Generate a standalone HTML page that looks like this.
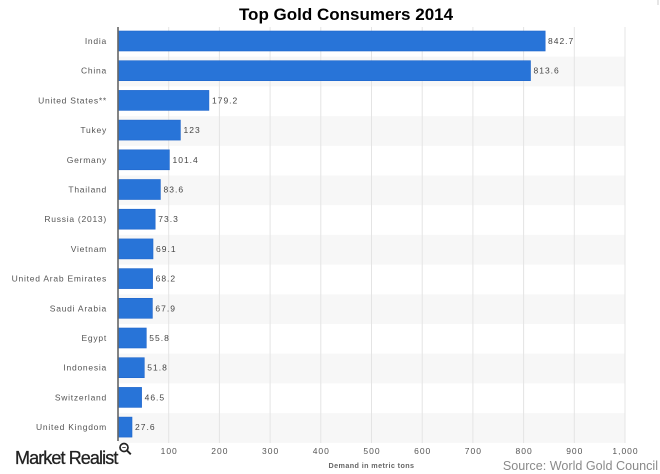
<!DOCTYPE html>
<html><head><meta charset="utf-8"><style>
html,body{margin:0;padding:0;background:#fff;}
svg{display:block;}
</style></head><body>
<svg width="660" height="474" viewBox="0 0 660 474" xmlns="http://www.w3.org/2000/svg">
<rect width="660" height="474" fill="#fff"/>
<text x="346" y="20" text-anchor="middle" font-family="Liberation Sans, sans-serif" font-weight="bold" font-size="17" fill="#000">Top Gold Consumers 2014</text>
<g id="bands" fill="#f7f7f7">
<rect x="118" y="56.7" width="507" height="29.7"/>
<rect x="118" y="116.1" width="507" height="29.7"/>
<rect x="118" y="175.5" width="507" height="29.7"/>
<rect x="118" y="234.9" width="507" height="29.7"/>
<rect x="118" y="294.3" width="507" height="29.7"/>
<rect x="118" y="353.7" width="507" height="29.7"/>
<rect x="118" y="413.1" width="507" height="29.7"/>
</g>
<g stroke="#e4e4e4" stroke-width="1">
<line x1="168.7" y1="27" x2="168.7" y2="443"/>
<line x1="219.4" y1="27" x2="219.4" y2="443"/>
<line x1="270.1" y1="27" x2="270.1" y2="443"/>
<line x1="320.8" y1="27" x2="320.8" y2="443"/>
<line x1="371.5" y1="27" x2="371.5" y2="443"/>
<line x1="422.2" y1="27" x2="422.2" y2="443"/>
<line x1="472.9" y1="27" x2="472.9" y2="443"/>
<line x1="523.6" y1="27" x2="523.6" y2="443"/>
<line x1="574.3" y1="27" x2="574.3" y2="443"/>
<line x1="625" y1="27" x2="625" y2="443"/>
</g>
<g fill="#2874d8" stroke="#1f66cc" stroke-width="0.6">
<rect x="118" y="31" width="427.2" height="20"/>
<rect x="118" y="60.7" width="412.5" height="20"/>
<rect x="118" y="90.4" width="90.9" height="20"/>
<rect x="118" y="120.1" width="62.4" height="20"/>
<rect x="118" y="149.8" width="51.4" height="20"/>
<rect x="118" y="179.5" width="42.4" height="20"/>
<rect x="118" y="209.2" width="37.2" height="20"/>
<rect x="118" y="238.9" width="35.0" height="20"/>
<rect x="118" y="268.6" width="34.6" height="20"/>
<rect x="118" y="298.3" width="34.4" height="20"/>
<rect x="118" y="328.0" width="28.3" height="20"/>
<rect x="118" y="357.7" width="26.3" height="20"/>
<rect x="118" y="387.4" width="23.6" height="20"/>
<rect x="118" y="417.1" width="14.0" height="20"/>
</g>
<line x1="118" y1="27" x2="118" y2="441" stroke="#666" stroke-width="1.6"/>
<g font-family="Liberation Sans, sans-serif" font-size="8.5" fill="#555" text-anchor="end" letter-spacing="0.75">
<text x="107" y="44">India</text>
<text x="107" y="73.7">China</text>
<text x="107" y="103.4">United States**</text>
<text x="107" y="133.1">Tukey</text>
<text x="107" y="162.8">Germany</text>
<text x="107" y="192.5">Thailand</text>
<text x="107" y="222.2">Russia (2013)</text>
<text x="107" y="251.9">Vietnam</text>
<text x="107" y="281.6">United Arab Emirates</text>
<text x="107" y="311.3">Saudi Arabia</text>
<text x="107" y="341.0">Egypt</text>
<text x="107" y="370.7">Indonesia</text>
<text x="107" y="400.4">Switzerland</text>
<text x="107" y="430.1">United Kingdom</text>
</g>
<g font-family="Liberation Sans, sans-serif" font-size="8.5" fill="#444" letter-spacing="1">
<text x="548" y="44">842.7</text>
<text x="533.5" y="73.7">813.6</text>
<text x="212" y="103.4">179.2</text>
<text x="183.5" y="133.1">123</text>
<text x="172.5" y="162.8">101.4</text>
<text x="163.5" y="192.5">83.6</text>
<text x="158.3" y="222.2">73.3</text>
<text x="156" y="251.9">69.1</text>
<text x="155.6" y="281.6">68.2</text>
<text x="155.4" y="311.3">67.9</text>
<text x="149.3" y="341.0">55.8</text>
<text x="147.3" y="370.7">51.8</text>
<text x="144.6" y="400.4">46.5</text>
<text x="135" y="430.1">27.6</text>
</g>
<g font-family="Liberation Sans, sans-serif" font-size="8.5" fill="#555" text-anchor="middle" letter-spacing="1">
<text x="169.2" y="454">100</text>
<text x="219.9" y="454">200</text>
<text x="270.6" y="454">300</text>
<text x="321.3" y="454">400</text>
<text x="372" y="454">500</text>
<text x="422.7" y="454">600</text>
<text x="473.4" y="454">700</text>
<text x="524.1" y="454">800</text>
<text x="574.8" y="454">900</text>
<text x="625.5" y="454">1,000</text>
</g>
<text x="371.5" y="468" text-anchor="middle" font-family="Liberation Sans, sans-serif" font-weight="bold" font-size="7.2" fill="#666" letter-spacing="0.4">Demand in metric tons</text>
<text x="15" y="464" font-family="Liberation Sans, sans-serif" font-size="18" fill="#222" stroke="#222" stroke-width="0.3" letter-spacing="-0.9">Market Realist</text>
<circle cx="124" cy="447.5" r="4" fill="none" stroke="#222" stroke-width="1.7"/>
<line x1="126.8" y1="450.3" x2="130.8" y2="454.3" stroke="#222" stroke-width="1.9"/>
<line x1="122.3" y1="447.5" x2="125.7" y2="447.5" stroke="#222" stroke-width="0.8"/>
<text x="658" y="470" text-anchor="end" font-family="Liberation Sans, sans-serif" font-size="12.6" fill="#8a8a8a">Source: World Gold Council</text>
<line x1="658" y1="0" x2="658" y2="5" stroke="#ccc" stroke-width="1"/>
</svg>
</body></html>
